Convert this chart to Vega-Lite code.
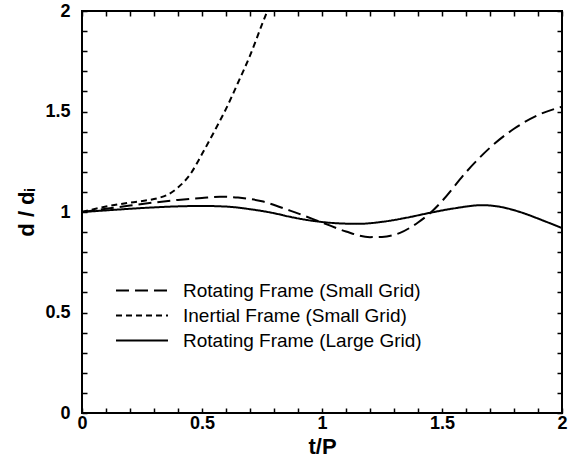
{
  "$schema": "https://vega.github.io/schema/vega-lite/v6.json",
  "width": 480,
  "height": 402,
  "autosize": {"type": "none"},
  "padding": {"left": 82, "top": 11, "right": 18, "bottom": 53},
  "background": "white",
  "config": {
    "view": {"stroke": "black", "strokeWidth": 2},
    "axis": {
      "domain": false,
      "grid": false,
      "ticks": true,
      "tickColor": "black",
      "tickWidth": 1.5,
      "tickSize": 5,
      "offset": -5,
      "labelFont": "Liberation Sans",
      "labelFontWeight": "bold",
      "labelFontSize": 18,
      "labelColor": "black",
      "titleFont": "Liberation Sans",
      "titleFontWeight": "bold",
      "titleFontSize": 22,
      "titleColor": "black"
    },
    "legend": {
      "labelFont": "Liberation Sans",
      "labelFontSize": 19,
      "labelColor": "black",
      "labelLimit": 0,
      "padding": 0
    }
  },
  "resolve": {"axis": {"x": "independent", "y": "independent"}},
  "data": {
    "values": [
      {"series": "Rotating Frame (Small Grid)", "t": 0.0, "d": 1.0},
      {"series": "Rotating Frame (Small Grid)", "t": 0.1, "d": 1.016},
      {"series": "Rotating Frame (Small Grid)", "t": 0.2, "d": 1.032},
      {"series": "Rotating Frame (Small Grid)", "t": 0.3, "d": 1.047},
      {"series": "Rotating Frame (Small Grid)", "t": 0.4, "d": 1.06},
      {"series": "Rotating Frame (Small Grid)", "t": 0.5, "d": 1.07},
      {"series": "Rotating Frame (Small Grid)", "t": 0.575, "d": 1.076},
      {"series": "Rotating Frame (Small Grid)", "t": 0.65, "d": 1.072},
      {"series": "Rotating Frame (Small Grid)", "t": 0.75, "d": 1.053},
      {"series": "Rotating Frame (Small Grid)", "t": 0.867, "d": 1.007},
      {"series": "Rotating Frame (Small Grid)", "t": 1.0, "d": 0.948},
      {"series": "Rotating Frame (Small Grid)", "t": 1.1, "d": 0.903},
      {"series": "Rotating Frame (Small Grid)", "t": 1.2, "d": 0.875},
      {"series": "Rotating Frame (Small Grid)", "t": 1.25, "d": 0.876},
      {"series": "Rotating Frame (Small Grid)", "t": 1.325, "d": 0.896},
      {"series": "Rotating Frame (Small Grid)", "t": 1.4, "d": 0.948},
      {"series": "Rotating Frame (Small Grid)", "t": 1.45, "d": 0.994},
      {"series": "Rotating Frame (Small Grid)", "t": 1.5, "d": 1.054},
      {"series": "Rotating Frame (Small Grid)", "t": 1.6, "d": 1.198},
      {"series": "Rotating Frame (Small Grid)", "t": 1.7, "d": 1.32},
      {"series": "Rotating Frame (Small Grid)", "t": 1.8, "d": 1.414},
      {"series": "Rotating Frame (Small Grid)", "t": 1.9, "d": 1.482},
      {"series": "Rotating Frame (Small Grid)", "t": 2.0, "d": 1.524},
      {"series": "Inertial Frame (Small Grid)", "t": 0.0, "d": 1.0},
      {"series": "Inertial Frame (Small Grid)", "t": 0.1, "d": 1.027},
      {"series": "Inertial Frame (Small Grid)", "t": 0.2, "d": 1.047},
      {"series": "Inertial Frame (Small Grid)", "t": 0.27, "d": 1.058},
      {"series": "Inertial Frame (Small Grid)", "t": 0.32, "d": 1.07},
      {"series": "Inertial Frame (Small Grid)", "t": 0.36, "d": 1.088},
      {"series": "Inertial Frame (Small Grid)", "t": 0.4, "d": 1.122},
      {"series": "Inertial Frame (Small Grid)", "t": 0.45, "d": 1.186},
      {"series": "Inertial Frame (Small Grid)", "t": 0.5, "d": 1.288},
      {"series": "Inertial Frame (Small Grid)", "t": 0.55, "d": 1.398},
      {"series": "Inertial Frame (Small Grid)", "t": 0.6, "d": 1.513},
      {"series": "Inertial Frame (Small Grid)", "t": 0.65, "d": 1.643},
      {"series": "Inertial Frame (Small Grid)", "t": 0.7, "d": 1.778},
      {"series": "Inertial Frame (Small Grid)", "t": 0.75, "d": 1.933},
      {"series": "Inertial Frame (Small Grid)", "t": 0.8, "d": 2.083},
      {"series": "Rotating Frame (Large Grid)", "t": 0.0, "d": 1.0},
      {"series": "Rotating Frame (Large Grid)", "t": 0.1, "d": 1.008},
      {"series": "Rotating Frame (Large Grid)", "t": 0.2, "d": 1.016},
      {"series": "Rotating Frame (Large Grid)", "t": 0.3, "d": 1.023},
      {"series": "Rotating Frame (Large Grid)", "t": 0.4, "d": 1.028},
      {"series": "Rotating Frame (Large Grid)", "t": 0.5, "d": 1.03},
      {"series": "Rotating Frame (Large Grid)", "t": 0.6, "d": 1.027},
      {"series": "Rotating Frame (Large Grid)", "t": 0.7, "d": 1.014},
      {"series": "Rotating Frame (Large Grid)", "t": 0.8, "d": 0.994},
      {"series": "Rotating Frame (Large Grid)", "t": 0.867, "d": 0.976},
      {"series": "Rotating Frame (Large Grid)", "t": 0.95, "d": 0.958},
      {"series": "Rotating Frame (Large Grid)", "t": 1.05, "d": 0.945},
      {"series": "Rotating Frame (Large Grid)", "t": 1.15, "d": 0.941},
      {"series": "Rotating Frame (Large Grid)", "t": 1.25, "d": 0.951},
      {"series": "Rotating Frame (Large Grid)", "t": 1.35, "d": 0.971},
      {"series": "Rotating Frame (Large Grid)", "t": 1.45, "d": 0.996},
      {"series": "Rotating Frame (Large Grid)", "t": 1.55, "d": 1.018},
      {"series": "Rotating Frame (Large Grid)", "t": 1.67, "d": 1.034},
      {"series": "Rotating Frame (Large Grid)", "t": 1.75, "d": 1.024},
      {"series": "Rotating Frame (Large Grid)", "t": 1.825, "d": 1.0},
      {"series": "Rotating Frame (Large Grid)", "t": 1.92, "d": 0.958},
      {"series": "Rotating Frame (Large Grid)", "t": 2.0, "d": 0.92}
    ]
  },
  "layer": [
    {
      "mark": {"type": "line", "color": "black", "strokeWidth": 2, "clip": true, "interpolate": "monotone"},
      "encoding": {
        "x": {
          "field": "t",
          "type": "quantitative",
          "scale": {"domain": [0, 2], "nice": false, "zero": false},
          "axis": {
            "orient": "bottom",
            "title": "t/P",
            "values": [0, 0.1, 0.2, 0.3, 0.4, 0.5, 0.6, 0.7, 0.8, 0.9, 1, 1.1, 1.2, 1.3, 1.4, 1.5, 1.6, 1.7, 1.8, 1.9, 2],
            "labelExpr": "abs(datum.value*2 - round(datum.value*2)) < 0.001 ? ('' + round(datum.value*10)/10) : ''",
            "labelPadding": 1,
            "labelFlush": false,
            "labelOverlap": false,
            "titlePadding": 4
          }
        },
        "y": {
          "field": "d",
          "type": "quantitative",
          "scale": {"domain": [0, 2], "nice": false, "zero": false},
          "axis": {
            "orient": "left",
            "title": "d / dᵢ",
            "values": [0, 0.1, 0.2, 0.3, 0.4, 0.5, 0.6, 0.7, 0.8, 0.9, 1, 1.1, 1.2, 1.3, 1.4, 1.5, 1.6, 1.7, 1.8, 1.9, 2],
            "labelExpr": "abs(datum.value*2 - round(datum.value*2)) < 0.001 ? ('' + round(datum.value*10)/10) : ''",
            "labelPadding": 12,
            "labelFlush": false,
            "labelOverlap": false,
            "titlePadding": 6
          }
        },
        "strokeDash": {
          "field": "series",
          "type": "nominal",
          "scale": {
            "domain": ["Rotating Frame (Small Grid)", "Inertial Frame (Small Grid)", "Rotating Frame (Large Grid)"],
            "range": [[13, 6], [6, 4], [1, 0]]
          },
          "legend": {
            "title": null,
            "orient": "none",
            "legendX": 33,
            "legendY": 267,
            "symbolType": "stroke",
            "symbolSize": 2700,
            "symbolStrokeWidth": 2,
            "symbolStrokeColor": "black",
            "labelOffset": 14,
            "clipHeight": 25,
            "rowPadding": 0
          }
        }
      }
    },
    {
      "mark": {"type": "line", "opacity": 0, "clip": true},
      "encoding": {
        "x": {
          "field": "t",
          "type": "quantitative",
          "axis": {
            "orient": "top",
            "title": null,
            "labels": false,
            "values": [0, 0.1, 0.2, 0.3, 0.4, 0.5, 0.6, 0.7, 0.8, 0.9, 1, 1.1, 1.2, 1.3, 1.4, 1.5, 1.6, 1.7, 1.8, 1.9, 2]
          }
        },
        "y": {
          "field": "d",
          "type": "quantitative",
          "axis": {
            "orient": "right",
            "title": null,
            "labels": false,
            "values": [0, 0.1, 0.2, 0.3, 0.4, 0.5, 0.6, 0.7, 0.8, 0.9, 1, 1.1, 1.2, 1.3, 1.4, 1.5, 1.6, 1.7, 1.8, 1.9, 2]
          }
        },
        "detail": {"field": "series"}
      }
    }
  ]
}
